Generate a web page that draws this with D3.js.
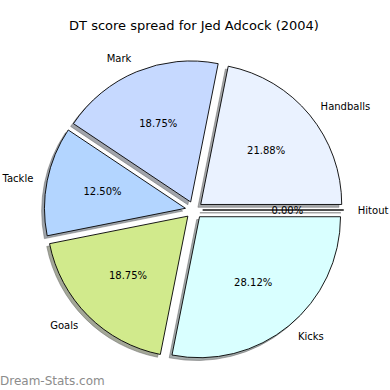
<!DOCTYPE html>
<html lang="en">
<head>
<meta charset="utf-8">
<title>DT score spread</title>
<script src="https://d3js.org/d3.v7.min.js"></script>
<style>
  body { margin: 0; background: #fff; }
  text { font-family: "DejaVu Sans", sans-serif; fill: #000; }
</style>
</head>
<body>
<script>
// data, in drawing order (counter-clockwise from 3 o'clock)
var categories = ["Hitout", "Handballs", "Mark", "Tackle", "Goals", "Kicks"];
var counts = [0, 7, 6, 4, 6, 9];
var colors = ["#eaf2ff", "#eaf2ff", "#c6d9ff", "#b3d5ff", "#d1ea8c", "#d9ffff"];

var width = 390, height = 390;
var cx = 194, cy = 210, radius = 141;
var explode = 8.7;

var svg = d3.select("body").append("svg")
    .attr("width", width)
    .attr("height", height);

svg.append("text")
    .attr("x", 194)
    .attr("y", 25)
    .attr("dy", "0.35em")
    .attr("text-anchor", "middle")
    .attr("font-size", 13)
    .text("DT score spread for Jed Adcock (2004)");

// matplotlib style: start at east, go counter-clockwise
var pie = d3.pie().sort(null)
    .startAngle(Math.PI / 2)
    .endAngle(Math.PI / 2 - 2 * Math.PI);

var arc = d3.arc().innerRadius(0).outerRadius(radius);
var total = d3.sum(counts);

// python-ish "%.2f" (round half to even)
function pct(v) {
  var x = v / total * 10000;
  var f = Math.floor(x), n;
  if (Math.abs(x - f - 0.5) < 1e-9) n = (f % 2 === 0) ? f : f + 1;
  else n = Math.round(x);
  return (n / 100).toFixed(2) + "%";
}

var arcs = pie(counts).map(function(d, i) {
  var mid = (d.startAngle + d.endAngle) / 2;
  d.ux = Math.sin(mid);
  d.uy = -Math.cos(mid);
  d.ox = cx + d.ux * explode;
  d.oy = cy + d.uy * explode;
  d.i = i;
  return d;
});

var g = svg.append("g");

// shadows first
g.selectAll(".shadow")
    .data(arcs)
    .enter().append("path")
    .attr("class", "shadow")
    .attr("transform", function(d) { return "translate(" + (d.ox - 2.8) + "," + (d.oy + 2.8) + ")"; })
    .attr("d", arc)
    .attr("fill", function(d) { return d3.color(colors[d.i]).darker(3); })
    .attr("fill-opacity", 0.5)
    .attr("stroke", "#666")
    .attr("stroke-opacity", 0.5)
    .attr("stroke-width", 1);

g.selectAll(".wedge")
    .data(arcs)
    .enter().append("path")
    .attr("class", "wedge")
    .attr("transform", function(d) { return "translate(" + d.ox + "," + d.oy + ")"; })
    .attr("d", arc)
    .attr("fill", function(d) { return colors[d.i]; })
    .attr("stroke", "#000")
    .attr("stroke-width", 0.9);

// category labels at 1.1 r
svg.selectAll(".lbl")
    .data(arcs)
    .enter().append("text")
    .attr("class", "lbl")
    .attr("x", function(d) { return d.ox + d.ux * radius * 1.1; })
    .attr("y", function(d) { return d.oy + d.uy * radius * 1.1; })
    .attr("dy", "0.35em")
    .attr("text-anchor", function(d) { return d.ux >= 0 ? "start" : "end"; })
    .attr("font-size", 10)
    .text(function(d) { return categories[d.i]; });

// percentages at 0.6 r
svg.selectAll(".pct")
    .data(arcs)
    .enter().append("text")
    .attr("class", "pct")
    .attr("x", function(d) { return d.ox + d.ux * radius * 0.6; })
    .attr("y", function(d) { return d.oy + d.uy * radius * 0.6; })
    .attr("dy", "0.35em")
    .attr("text-anchor", "middle")
    .attr("font-size", 10)
    .text(function(d) { return pct(d.value); });

svg.append("text")
    .attr("x", 0)
    .attr("y", 385)
    .attr("font-size", 12)
    .style("fill", "#8c8c8c")
    .text("Dream-Stats.com");
</script>
</body>
</html>
